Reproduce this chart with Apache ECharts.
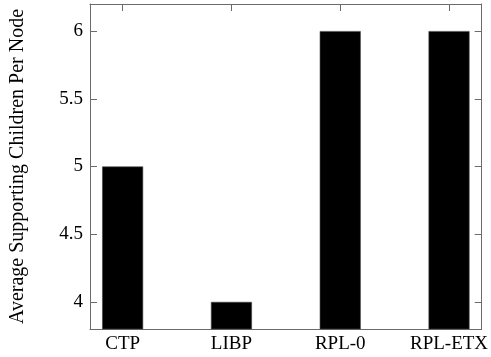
<!DOCTYPE html>
<html>
<head>
<meta charset="utf-8">
<script src="https://cdn.jsdelivr.net/npm/echarts@6/dist/echarts.min.js"></script>
<style>
  html, body { margin: 0; padding: 0; background: #fff; }
  #chart { width: 491px; height: 357px; }
</style>
</head>
<body>
<div id="chart"></div>
<script>
// 数据
var protocols = ['CTP', 'LIBP', 'RPL-0', 'RPL-ETX'];
var avgChildren = [5, 4, 6, 6];
var yTicks = [4, 4.5, 5, 5.5, 6];

var myChart = echarts.init(document.getElementById('chart'));

var font = '"Liberation Serif", "DejaVu Serif", serif';
var lineColor = '#6b6b6b';
var xPos = protocols.map(function (p, i) { return i; });

function xAx(pos, showLabel) {
    return {
        type: 'value',
        position: pos,
        min: -0.3,
        max: 3.3,
        splitLine: { show: false },
        axisLine: { show: true, onZero: false, lineStyle: { color: lineColor, width: 1 } },
        axisTick: { show: true, inside: true, length: 7, customValues: xPos, lineStyle: { color: lineColor } },
        axisLabel: {
            show: showLabel,
            customValues: xPos,
            margin: 6,
            color: '#000',
            fontFamily: font,
            fontSize: 19,
            formatter: function (v) { return protocols[Math.round(v)]; }
        }
    };
}

function yAx(pos, showLabel) {
    return {
        type: 'value',
        position: pos,
        min: 3.8,
        max: 6.2,
        splitLine: { show: false },
        axisLine: { show: true, onZero: false, lineStyle: { color: lineColor, width: 1 } },
        axisTick: { show: true, inside: true, length: 7, customValues: yTicks, lineStyle: { color: lineColor } },
        axisLabel: {
            show: showLabel,
            customValues: yTicks,
            margin: 7,
            color: '#000',
            fontFamily: font,
            fontSize: 19,
            formatter: function (v) { return String(v); }
        },
        name: showLabel ? 'Average Supporting Children Per Node' : '',
        nameLocation: 'middle',
        nameGap: 62,
        nameTextStyle: { color: '#000', fontFamily: font, fontSize: 20 }
    };
}

var option = {
    animation: false,
    grid: { left: 89, right: 9, top: 4, bottom: 28 },
    xAxis: [xAx('bottom', true), xAx('top', false)],
    yAxis: [yAx('left', true), yAx('right', false)],
    series: [{
        type: 'bar',
        xAxisIndex: 0,
        yAxisIndex: 0,
        barWidth: 41,
        clip: true,
        data: protocols.map(function (p, i) { return [i, avgChildren[i]]; }),
        itemStyle: { color: '#000', borderColor: '#444', borderWidth: 0.6 }
    }]
};

myChart.setOption(option);
</script>
</body>
</html>
